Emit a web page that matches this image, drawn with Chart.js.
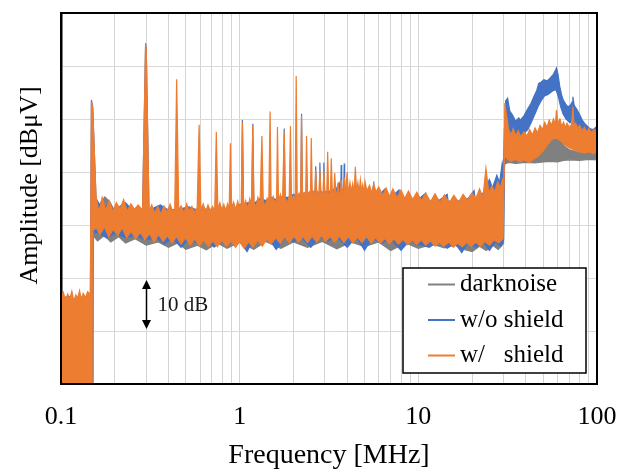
<!DOCTYPE html>
<html>
<head>
<meta charset="utf-8">
<script src="https://cdn.jsdelivr.net/npm/chart.js@4/dist/chart.umd.min.js"></script>
<style>
  html, body { margin: 0; padding: 0; background: #fff; }
  #wrap { width: 623px; height: 472px; }
</style>
</head>
<body>
<div id="wrap"><canvas id="spectrum" width="623" height="472"></canvas></div>
<script>
// Spectrum envelopes (frequency in MHz, amplitude in dB).
// Each trace is drawn as a band: an upper envelope filled down to a lower one.

// w/ shield (orange) - upper envelope, spikes at the 148 kHz harmonics
const wsTopF = [
  0.100, 0.103, 0.106, 0.109, 0.112, 0.115, 0.118, 0.121, 0.124, 0.127,
  0.130, 0.133, 0.137, 0.141, 0.146, 0.148, 0.1505, 0.157, 0.163, 0.170,
  0.178, 0.186, 0.195, 0.204, 0.214, 0.224, 0.235, 0.246, 0.258, 0.270,
  0.286, 0.2975, 0.300, 0.311, 0.322, 0.335, 0.348, 0.362, 0.377, 0.392,
  0.408, 0.422, 0.433, 0.444, 0.456, 0.470, 0.488, 0.505, 0.522, 0.540,
  0.558, 0.578, 0.593, 0.607, 0.625, 0.645, 0.665, 0.685, 0.705, 0.725,
  0.740, 0.755, 0.775, 0.795, 0.815, 0.835, 0.855, 0.873, 0.888, 0.902,
  0.925, 0.950, 0.975, 1.000, 1.020, 1.036, 1.052, 1.080, 1.110, 1.140,
  1.165, 1.184, 1.203, 1.235, 1.265, 1.300, 1.332, 1.355, 1.390, 1.425,
  1.455, 1.480, 1.500, 1.540, 1.580, 1.610, 1.628, 1.648, 1.690, 1.735,
  1.776, 1.800, 1.850, 1.895, 1.924, 1.950, 2.000, 2.045, 2.072, 2.100,
  2.150, 2.195, 2.220, 2.250, 2.300, 2.340, 2.368, 2.400, 2.450, 2.490,
  2.516, 2.550, 2.610, 2.640, 2.664, 2.700, 2.770, 2.812, 2.850, 2.920,
  2.960, 3.000, 3.070, 3.108, 3.150, 3.220, 3.256, 3.300, 3.360, 3.404,
  3.450, 3.520, 3.552, 3.600, 3.660, 3.700, 3.760, 3.820, 3.848, 3.920,
  3.996, 4.060, 4.144, 4.220, 4.292, 4.370, 4.440, 4.510, 4.588, 4.660,
  4.736, 4.810, 4.884, 4.960, 5.032, 5.150, 5.330, 5.480, 5.620, 5.800,
  6.00, 6.30, 6.60, 6.90, 7.20, 7.60, 8.00, 8.40, 8.80, 9.30,
  9.80, 10.4, 11.0, 11.7, 12.4, 13.2, 14.0, 14.9, 15.8, 16.8,
  17.8, 18.9, 20.0, 21.0, 22.0, 23.0, 23.9, 24.8, 25.8, 26.8,
  27.8, 28.8, 29.6, 30.1, 30.5, 31.2, 32.0, 33.0, 34.0, 35.0,
  36.2, 37.5, 39.0, 40.5, 42.0, 43.5, 45.0, 46.5, 48.0, 49.5,
  51.0, 52.5, 54.0, 55.5, 57.0, 58.5, 59.3, 60.5, 62.0, 63.5,
  65.0, 66.5, 68.0, 70.0, 72.0, 73.3, 74.5, 76.0, 78.0, 80.0,
  82.5, 85.0, 87.5, 90.0, 93.0, 96.0, 100
];
const wsTop = [
  16.5, 17.3, 15.8, 17.0, 16.0, 17.5, 15.6, 16.8, 16.2, 17.6,
  15.9, 17.1, 16.3, 17.4, 16.8, 53.3, 52.0, 35.5, 32.4, 35.2,
  32.8, 34.6, 32.5, 34.2, 33.0, 34.8, 32.6, 34.0, 32.9, 33.8,
  32.8, 64.1, 63.2, 32.6, 33.8, 32.2, 33.5, 32.0, 33.6, 32.4,
  33.9, 32.5, 33.0, 57.5, 32.8, 33.6, 32.3, 34.0, 32.6, 33.5,
  32.4, 33.2, 48.9, 32.8, 34.0, 32.5, 33.8, 32.7, 33.5, 32.6,
  47.6, 33.0, 34.2, 32.8, 33.9, 32.6, 34.0, 33.0, 45.4, 33.2,
  34.3, 32.9, 34.5, 33.2, 34.0, 49.4, 33.5, 34.6, 33.0, 35.0,
  33.8, 48.8, 34.2, 33.4, 35.2, 33.8, 46.8, 34.5, 33.6, 35.0,
  34.0, 51.4, 34.4, 35.4, 34.0, 35.0, 48.5, 34.6, 35.8, 34.2,
  47.7, 35.0, 34.2, 35.6, 48.7, 34.8, 35.5, 34.6, 58.1, 35.2,
  36.0, 34.8, 50.6, 35.4, 36.0, 35.0, 46.8, 35.5, 36.2, 35.0,
  46.4, 35.8, 36.4, 35.2, 40.4, 36.5, 35.4, 40.4, 36.2, 35.6,
  40.0, 36.4, 35.5, 43.8, 36.0, 35.6, 42.6, 36.5, 35.4, 39.8,
  36.2, 35.8, 38.0, 36.0, 35.5, 38.5, 36.4, 35.6, 39.0, 36.0,
  40.0, 35.8, 38.0, 36.2, 37.8, 35.9, 41.0, 36.3, 38.0, 36.0,
  38.5, 36.4, 37.6, 36.0, 38.2, 36.4, 37.5, 36.0, 37.8, 36.2,
  37.2, 35.6, 37.0, 35.4, 36.8, 35.2, 36.6, 35.0, 36.4, 34.8,
  36.2, 34.6, 36.0, 34.4, 35.9, 34.3, 35.7, 34.2, 35.6, 34.3,
  35.8, 34.6, 36.0, 35.0, 36.8, 35.2, 40.7, 36.0, 37.4, 36.2,
  38.2, 37.0, 38.6, 37.5, 53.0, 50.6, 48.0, 47.0, 48.2, 46.8,
  47.8, 46.6, 47.6, 46.8, 48.0, 47.0, 48.3, 47.4, 48.8, 48.0,
  49.4, 48.4, 49.8, 48.8, 50.0, 49.0, 51.7, 49.2, 50.0, 48.6,
  49.4, 48.4, 49.2, 48.3, 49.0, 52.3, 48.6, 49.2, 48.2, 48.8,
  47.8, 48.4, 47.5, 48.2, 47.4, 48.0, 47.6
];
// w/ shield - lower envelope
const wsBotF = [
  0.100, 0.1215, 0.1222, 0.1238, 0.1245, 0.1495, 0.151, 0.158, 0.165, 0.175,
  0.185, 0.196, 0.208, 0.220, 0.233, 0.247, 0.262, 0.278, 0.295, 0.313,
  0.332, 0.352, 0.373, 0.395, 0.418, 0.443, 0.470, 0.498, 0.528, 0.560,
  0.594, 0.630, 0.668, 0.708, 0.750, 0.795, 0.843, 0.894, 0.948, 1.00,
  1.06, 1.12, 1.19, 1.26, 1.34, 1.42, 1.50, 1.59, 1.69, 1.79,
  1.90, 2.01, 2.13, 2.26, 2.40, 2.54, 2.70, 2.86, 3.03, 3.21,
  3.40, 3.61, 3.83, 4.06, 4.30, 4.56, 4.84, 5.13, 5.44, 5.77,
  6.12, 6.49, 6.88, 7.30, 7.74, 8.21, 8.71, 9.24, 9.80, 10.4,
  11.0, 11.7, 12.4, 13.1, 13.9, 14.8, 15.7, 16.6, 17.6, 18.7,
  19.8, 21.0, 22.3, 23.6, 25.0, 26.5, 28.1, 29.8, 30.3, 31.5,
  33.0, 35.0, 37.0, 39.0, 41.5, 44.0, 47.0, 50.0, 53.0, 56.0,
  59.0, 62.0, 65.0, 68.0, 72.0, 76.0, 80.0, 85.0, 90.0, 95.0,
  100
];
const wsBot = [
  -5, -5, 4.0, 4.0, -5, -5, 29.0, 29.5, 28.2, 29.6,
  27.8, 29.2, 28.0, 29.5, 27.6, 28.8, 27.4, 28.6, 27.2, 28.4,
  26.8, 28.2, 26.9, 28.0, 26.6, 27.8, 26.4, 27.6, 26.2, 27.4,
  26.0, 27.2, 26.0, 27.0, 25.9, 27.2, 26.0, 27.0, 25.8, 26.8,
  25.6, 26.8, 25.8, 27.2, 26.0, 27.4, 26.4, 27.6, 26.5, 27.8,
  26.6, 27.9, 26.8, 27.8, 26.7, 27.9, 26.8, 28.0, 26.9, 27.8,
  26.8, 27.9, 26.7, 27.8, 26.6, 27.7, 26.7, 27.8, 26.6, 27.6,
  26.5, 27.5, 26.5, 27.4, 26.4, 27.3, 26.3, 27.2, 26.4, 27.2,
  26.2, 27.0, 26.0, 26.8, 26.0, 26.8, 25.8, 26.6, 25.9, 26.7,
  26.0, 26.8, 26.0, 26.9, 26.2, 27.2, 26.6, 27.4, 43.0, 42.5,
  42.0, 42.4, 41.9, 42.3, 41.8, 42.4, 43.0, 44.0, 45.2, 46.2,
  46.4, 46.0, 45.4, 44.8, 44.4, 44.0, 43.8, 43.6, 43.8, 43.5,
  43.7
];

// w/o shield (blue) - upper envelope
const woTopF = [
  0.100, 0.110, 0.120, 0.130, 0.140, 0.146, 0.148, 0.1505, 0.157, 0.170,
  0.185, 0.200, 0.215, 0.230, 0.250, 0.270, 0.286, 0.2975, 0.300, 0.311,
  0.330, 0.360, 0.400, 0.460, 0.520, 0.580, 0.640, 0.700, 0.760, 0.820,
  0.880, 0.940, 1.000, 1.025, 1.036, 1.050, 1.120, 1.170, 1.184, 1.200,
  1.300, 1.400, 1.500, 1.600, 1.700, 1.760, 1.776, 1.795, 1.900, 2.000,
  2.100, 2.200, 2.220, 2.240, 2.400, 2.550, 2.640, 2.664, 2.690, 2.790,
  2.812, 2.835, 2.940, 2.960, 2.985, 3.100, 3.300, 3.500, 3.600, 3.680,
  3.700, 3.725, 3.825, 3.848, 3.870, 4.000, 4.300, 4.350, 4.600, 5.000,
  5.400, 5.600, 5.620, 5.640, 6.000, 6.500, 6.600, 7.000, 7.800, 7.900,
  9.00, 10.0, 11.0, 11.2, 13.0, 14.5, 14.7, 17.0, 19.0, 20.5,
  20.8, 22.0, 23.0, 24.0, 25.0, 26.0, 27.5, 28.5, 29.5, 30.0,
  30.8, 31.6, 32.5, 33.6, 35.0, 36.5, 37.3, 39.0, 40.6, 42.5,
  44.3, 46.0, 47.2, 48.8, 50.4, 52.5, 54.6, 57.0, 59.3, 60.5,
  61.9, 63.3, 64.7, 66.8, 68.9, 71.0, 72.5, 73.3, 74.5, 77.5,
  80.0, 82.6, 86.0, 91.0, 95.0, 99.0, 100
];
const woTop = [
  16.0, 16.6, 15.8, 16.4, 16.0, 16.2, 53.6, 52.3, 35.0, 33.0,
  34.0, 32.4, 33.6, 34.2, 32.8, 33.4, 32.6, 64.3, 63.3, 32.4,
  33.2, 33.8, 32.8, 33.0, 33.4, 32.8, 33.0, 32.9, 33.4, 33.0,
  33.6, 33.2, 33.8, 34.0, 49.8, 34.0, 34.2, 34.0, 49.1, 34.0,
  35.0, 34.6, 35.2, 34.8, 35.4, 35.0, 48.2, 35.2, 35.2, 35.8,
  35.4, 35.6, 51.0, 36.0, 36.0, 36.4, 36.2, 41.1, 36.4, 36.0,
  41.8, 36.4, 36.0, 41.8, 36.4, 36.2, 36.6, 37.0, 38.0, 36.6,
  41.3, 36.6, 36.8, 41.6, 36.6, 36.0, 37.2, 35.8, 36.0, 35.6,
  36.0, 35.8, 38.2, 35.8, 35.6, 36.8, 35.4, 35.2, 36.6, 35.0,
  34.8, 34.8, 36.0, 34.6, 34.6, 35.8, 34.4, 34.6, 35.0, 36.5,
  35.0, 35.6, 36.0, 37.4, 38.6, 37.0, 39.4, 38.0, 41.7, 40.0,
  53.4, 53.9, 51.5, 50.8, 49.6, 50.2, 49.8, 50.6, 51.7, 52.8,
  54.2, 55.4, 56.7, 57.0, 57.4, 57.2, 57.7, 58.4, 59.6, 58.4,
  56.1, 54.6, 53.6, 52.8, 52.3, 52.6, 53.2, 54.2, 52.6, 51.7,
  50.8, 49.8, 49.0, 48.2, 48.0, 48.5, 48.6
];
// w/o shield - lower envelope (mostly hidden, with dips below the orange band)
const woBotF = [
  0.100, 0.1495, 0.151, 0.160, 0.180, 0.200, 0.230, 0.260, 0.300, 0.340,
  0.380, 0.420, 0.470, 0.520, 0.580, 0.650, 0.720, 0.800, 0.900, 1.000,
  1.100, 1.200, 1.300, 1.450, 1.600, 1.800, 2.000, 2.200, 2.500, 2.800,
  3.100, 3.500, 4.000, 4.500, 5.000, 5.500, 6.200, 7.000, 8.000, 9.000,
  10.0, 11.5, 13.0, 14.5, 16.0, 17.5, 19.0, 21.0, 23.0, 25.0,
  27.0, 29.0, 30.0, 30.3, 31.5, 33.0, 35.0, 37.0, 39.0, 41.0,
  43.0, 45.0, 47.0, 49.0, 51.0, 53.0, 55.0, 57.0, 59.0, 61.0,
  62.5, 64.5, 67.0, 70.0, 73.0, 76.0, 80.0, 85.0, 90.0, 95.0,
  100
];
const woBot = [
  -5, -5, 28.5, 28.6, 27.6, 28.4, 27.6, 28.0, 27.2, 27.6,
  26.4, 27.6, 25.8, 27.4, 26.6, 27.4, 25.8, 27.2, 26.8, 27.0,
  25.0, 27.4, 26.8, 27.6, 25.4, 27.6, 26.8, 27.8, 25.8, 27.8,
  26.9, 27.8, 25.8, 27.8, 25.2, 27.6, 26.6, 27.4, 25.2, 27.2,
  26.4, 25.8, 26.9, 25.6, 26.6, 24.8, 26.8, 25.8, 26.9, 25.2,
  26.8, 26.0, 27.2, 40.5, 47.5, 46.8, 46.6, 46.8, 47.3, 48.0,
  49.5, 51.0, 52.5, 53.6, 54.4, 54.6, 55.0, 55.4, 55.5, 54.0,
  52.4, 51.0, 50.0, 49.4, 49.2, 48.6, 48.0, 47.4, 47.0, 46.8,
  47.0
];

// darknoise (gray) - upper envelope
const dnTopF = [
  0.100, 0.1495, 0.152, 0.165, 0.176, 0.188, 0.200, 0.220, 0.250, 0.280,
  0.320, 0.360, 0.400, 0.500, 0.600, 0.800, 1.000, 1.500, 2.000, 3.000,
  5.00, 10.0, 20.0, 28.0, 30.0, 30.3, 31.0, 32.0, 34.0, 37.0,
  40.0, 44.0, 48.0, 52.0, 56.0, 59.0, 62.0, 66.0, 70.0, 75.0,
  80.0, 88.0, 95.0, 100
];
const dnTop = [
  15.5, 15.5, 33.5, 34.0, 35.3, 34.3, 32.6, 33.4, 32.0, 32.8,
  31.8, 32.4, 31.6, 32.4, 31.8, 32.6, 32.4, 33.5, 34.0, 34.6,
  35.0, 34.6, 34.4, 35.6, 36.0, 47.9, 47.3, 45.2, 44.6, 44.6,
  44.4, 44.6, 45.0, 45.8, 46.4, 46.6, 46.0, 44.8, 44.2, 43.9,
  43.7, 43.6, 43.8, 43.6
];
// darknoise - lower envelope
const dnBotF = [
  0.100, 0.1495, 0.152, 0.160, 0.175, 0.190, 0.210, 0.230, 0.260, 0.300,
  0.350, 0.400, 0.450, 0.500, 0.580, 0.650, 0.750, 0.850, 1.000, 1.200,
  1.400, 1.700, 2.000, 2.400, 2.900, 3.500, 4.200, 5.000, 6.000, 7.000,
  8.50, 10.0, 12.0, 14.0, 16.0, 18.0, 20.0, 22.0, 24.0, 26.0,
  28.0, 30.0, 30.3, 32.0, 35.0, 40.0, 45.0, 50.0, 55.0, 60.0,
  65.0, 70.0, 80.0, 90.0, 100
];
const dnBot = [
  -5, -5, 28.0, 27.0, 28.0, 26.8, 27.8, 26.6, 27.4, 26.2,
  26.8, 25.8, 26.6, 25.4, 26.2, 25.3, 26.6, 25.6, 26.8, 25.4,
  26.9, 25.6, 26.8, 25.8, 26.9, 25.5, 26.8, 25.9, 26.8, 25.2,
  26.6, 25.6, 26.4, 25.7, 26.2, 25.4, 25.0, 26.0, 25.2, 26.2,
  25.4, 26.5, 41.5, 41.8, 41.6, 41.8, 41.7, 41.9, 42.0, 41.9,
  42.2, 42.3, 42.2, 42.4, 42.3
];

// legend and axes
const seriesLabels = ['darknoise', 'w/o shield', 'w/   shield'];
const seriesColors = ['#808080', '#4472C4', '#ED7D31'];
const xGridTicks = [
  0.1, 0.2, 0.3, 0.4, 0.5, 0.6, 0.7, 0.8, 0.9,
  1, 2, 3, 4, 5, 6, 7, 8, 9,
  10, 20, 30, 40, 50, 60, 70, 80, 90, 100
];
const xLabelTicks = [0.1, 1, 10, 100];
const yRange = [0, 70];

// "10 dB" scale marker
const markFreq = 0.3;
const markFrom = 10;
const markTo = 20;
const markLabel = '10 dB';

const SERIF = '"Liberation Serif", "Times New Roman", serif';

function toPoints(freqs, values) {
    return freqs.map((f, i) => ({ x: f, y: values[i] }));
}

// lower line first, then the upper line filled down to it
function band(label, color, order, topF, top, botF, bot) {
    const common = { borderColor: color, backgroundColor: color, borderWidth: 1.2, pointRadius: 0, tension: 0, order };
    return [
        Object.assign({ label: label + ' min', data: toPoints(botF, bot), fill: false }, common),
        Object.assign({ label, data: toPoints(topF, top), fill: '-1' }, common),
    ];
}

const framePlugin = {
    id: 'frame',
    afterDatasetsDraw(chart) {
        const { ctx, chartArea: a } = chart;
        ctx.save();
        ctx.strokeStyle = '#000';
        ctx.lineWidth = 2;
        ctx.strokeRect(a.left, a.top, a.right - a.left, a.bottom - a.top);
        ctx.restore();
    }
};

const markerPlugin = {
    id: 'marker',
    afterDatasetsDraw(chart) {
        const { ctx, scales: { x, y } } = chart;
        const px = Math.round(x.getPixelForValue(markFreq)) + 0.5;
        const yTop = y.getPixelForValue(markTo) + 2;
        const yBot = y.getPixelForValue(markFrom) - 2;
        ctx.save();
        ctx.strokeStyle = '#000';
        ctx.fillStyle = '#000';
        ctx.lineWidth = 1.5;
        ctx.beginPath();
        ctx.moveTo(px, yTop + 6);
        ctx.lineTo(px, yBot - 6);
        ctx.stroke();
        ctx.beginPath();
        ctx.moveTo(px, yTop);
        ctx.lineTo(px - 4.5, yTop + 9);
        ctx.lineTo(px + 4.5, yTop + 9);
        ctx.closePath();
        ctx.fill();
        ctx.beginPath();
        ctx.moveTo(px, yBot);
        ctx.lineTo(px - 4.5, yBot - 9);
        ctx.lineTo(px + 4.5, yBot - 9);
        ctx.closePath();
        ctx.fill();
        ctx.font = '21px ' + SERIF;
        ctx.fillStyle = '#1a1a1a';
        ctx.textBaseline = 'middle';
        ctx.fillText(markLabel, px + 11, (yTop + yBot) / 2 + 1);
        ctx.restore();
    }
};

const boxLegendPlugin = {
    id: 'boxLegend',
    afterDraw(chart) {
        const { ctx, chartArea: a } = chart;
        const w = 183, h = 105;
        const left = a.right - 11 - w;
        const top = a.bottom - 11 - h;
        ctx.save();
        ctx.fillStyle = '#fff';
        ctx.fillRect(left, top, w, h);
        ctx.strokeStyle = '#000';
        ctx.lineWidth = 1.5;
        ctx.strokeRect(left, top, w, h);
        ctx.font = '25px ' + SERIF;
        ctx.textBaseline = 'middle';
        seriesLabels.forEach((label, i) => {
            const cy = top + 16.5 + i * 35.5;
            ctx.strokeStyle = seriesColors[i];
            ctx.lineWidth = 2;
            ctx.beginPath();
            ctx.moveTo(left + 25, cy);
            ctx.lineTo(left + 52, cy);
            ctx.stroke();
            ctx.fillStyle = '#000';
            ctx.fillText(label, left + 57, cy);
        });
        ctx.restore();
    }
};

document.addEventListener("DOMContentLoaded", () => {
    const datasets = [
        ...band(seriesLabels[0], seriesColors[0], 2, dnTopF, dnTop, dnBotF, dnBot),
        ...band(seriesLabels[1], seriesColors[1], 1, woTopF, woTop, woBotF, woBot),
        ...band(seriesLabels[2], seriesColors[2], 0, wsTopF, wsTop, wsBotF, wsBot),
    ];

    new Chart(document.getElementById("spectrum").getContext('2d'), {
        type: 'line',
        data: { datasets },
        options: {
            responsive: false,
            devicePixelRatio: 1,
            animation: false,
            layout: { padding: { left: 0, right: 26, top: 13, bottom: 0 } },
            plugins: {
                legend: { display: false },
                tooltip: { enabled: false },
                filler: { propagate: false }
            },
            scales: {
                x: {
                    type: 'logarithmic',
                    min: 0.1,
                    max: 100,
                    afterBuildTicks: (scale) => { scale.ticks = xGridTicks.map(v => ({ value: v })); },
                    afterFit: (scale) => { scale.height = 88; },
                    // invisible tick marks push the labels down without adding side padding
                    grid: { color: '#d4d4d4', lineWidth: 1, drawTicks: true, tickLength: 18, tickColor: 'rgba(0,0,0,0)' },
                    border: { color: '#000', width: 2 },
                    ticks: {
                        autoSkip: false,
                        maxRotation: 0,
                        padding: 0,
                        color: '#000',
                        font: { family: SERIF, size: 26 },
                        callback: (value) => xLabelTicks.includes(value) ? String(value) : ''
                    },
                    title: {
                        display: true,
                        text: 'Frequency [MHz]',
                        color: '#000',
                        font: { family: SERIF, size: 28 },
                        padding: { top: 0, bottom: 0 }
                    }
                },
                y: {
                    min: yRange[0],
                    max: yRange[1],
                    afterFit: (scale) => { scale.width = 61; },
                    grid: { color: '#d9d9d9', lineWidth: 1, drawTicks: false },
                    border: { color: '#000', width: 2.5 },
                    ticks: { display: false, stepSize: 10 },
                    title: {
                        display: true,
                        // leading spaces lift the rotated title a little above the axis centre, as in the original
                        text: '    Amplitude [dBμV]',
                        color: '#000',
                        font: { family: SERIF, size: 26 },
                        padding: { top: 14.4, bottom: 15 }
                    }
                }
            }
        },
        plugins: [framePlugin, markerPlugin, boxLegendPlugin]
    });
});
</script>
</body>
</html>
